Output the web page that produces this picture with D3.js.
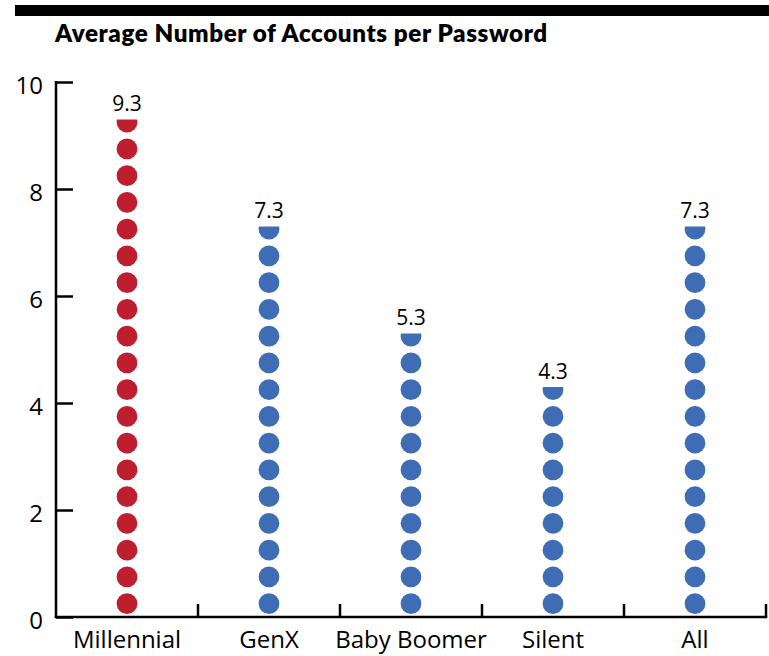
<!DOCTYPE html>
<html>
<head>
<meta charset="utf-8">
<script src="https://cdn.jsdelivr.net/npm/d3@7"></script>
<style>
  html, body { margin: 0; padding: 0; background: #fff; }
  svg { display: block; }
</style>
</head>
<body>
<svg id="chart" width="769" height="656"></svg>
<script>
const categories = ["Millennial", "GenX", "Baby Boomer", "Silent", "All"];
const values = [9.3, 7.3, 5.3, 4.3, 7.3];
const dotColors = ["#BE1E2D", "#3F6DB5", "#3F6DB5", "#3F6DB5", "#3F6DB5"];
const yTicks = [0, 2, 4, 6, 8, 10];
const dotStep = 0.5;
const chartTitle = "Average Number of Accounts per Password";

const svg = d3.select("#chart");
const W = 769, H = 656;
const plotLeft = 56, plotRight = 766, plotTop = 82, plotBottom = 617;

const x = d3.scaleBand().domain(categories).range([plotLeft, plotRight]).padding(0);
const y = d3.scaleLinear().domain([0, 10]).range([plotBottom, plotTop]);

const font = "'Open Sans', 'Noto Sans', sans-serif";

// top black bar
svg.append("rect").attr("x", 15).attr("y", 5).attr("width", W - 15).attr("height", 11).attr("fill", "#000");

// title
const t = svg.append("text")
  .attr("x", 55).attr("y", 42)
  .attr("font-family", "Lato, 'Open Sans', sans-serif")
  .attr("font-weight", 800)
  .attr("letter-spacing", 0.6)
  .attr("font-size", 20)
  .attr("fill", "#000")
  .text(chartTitle);
const tw = t.node().getComputedTextLength();
t.attr("font-size", 20 * 498 / tw);

// dots
const defs = svg.append("defs");
categories.forEach((c, i) => {
  const v = values[i];
  const cx = x(c) + x.bandwidth() / 2;
  defs.append("clipPath").attr("id", "clip" + i)
    .append("rect")
    .attr("x", x(c)).attr("width", x.bandwidth())
    .attr("y", y(v)).attr("height", y(0) - y(v) + 20);
  const centers = d3.range(0, Math.ceil(v / dotStep)).map(k => k * dotStep + dotStep / 2);
  const g = svg.append("g").attr("clip-path", `url(#clip${i})`);
  g.selectAll("circle").data(centers).join("circle")
    .attr("cx", cx)
    .attr("cy", d => y(d))
    .attr("r", (y(0) - y(dotStep)) / 2 - 3)
    .attr("fill", dotColors[i]);
  svg.append("text")
    .attr("x", cx).attr("y", y(v) - 8)
    .attr("text-anchor", "middle")
    .attr("font-family", font)
    .attr("font-size", 21)
    .attr("fill", "#000")
    .text(v.toFixed(1));
});

// y axis
const yAxis = svg.append("g").attr("transform", `translate(${plotLeft},0)`)
  .call(d3.axisRight(y).tickValues(yTicks).tickSize(17).tickFormat(d3.format("d")));
yAxis.select(".domain").remove();
yAxis.selectAll(".tick line").attr("stroke", "#000").attr("stroke-width", 2.5);
yAxis.selectAll(".tick text")
  .attr("x", -13).attr("dy", "0.62em").attr("y", -3)
  .attr("text-anchor", "end")
  .attr("font-family", font).attr("font-size", 24).attr("fill", "#000");
svg.append("line").attr("x1", plotLeft).attr("x2", plotLeft).attr("y1", y(10) - 1).attr("y2", plotBottom + 1)
  .attr("stroke", "#000").attr("stroke-width", 2.5);

// x axis
const xAxis = svg.append("g").attr("transform", `translate(0,${plotBottom})`)
  .call(d3.axisBottom(x).tickSize(0).tickPadding(14));
xAxis.select(".domain").remove();
xAxis.selectAll(".tick text")
  .attr("font-family", font).attr("font-size", 24).attr("fill", "#000")
  .attr("dy", "0.71em");
svg.append("line").attr("x1", plotLeft - 1.25).attr("x2", plotRight + 1.25).attr("y1", plotBottom).attr("y2", plotBottom)
  .attr("stroke", "#000").attr("stroke-width", 2.5);
// boundary ticks (pointing up)
const bounds = categories.slice(1).map(c => x(c)).concat([plotRight]);
svg.selectAll("line.bt").data(bounds).join("line").attr("class", "bt")
  .attr("x1", d => d).attr("x2", d => d)
  .attr("y1", plotBottom).attr("y2", plotBottom - 13)
  .attr("stroke", "#000").attr("stroke-width", 2.5);
</script>
</body>
</html>
